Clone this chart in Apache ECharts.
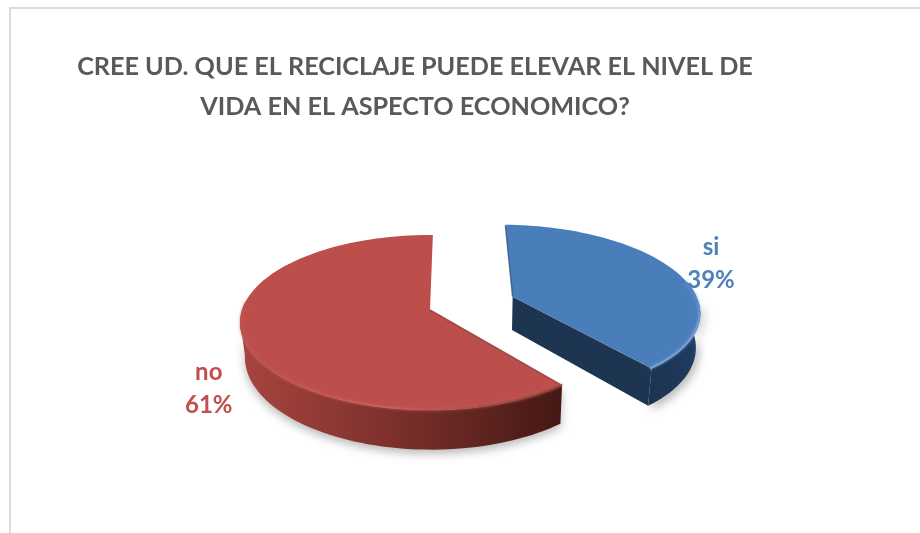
<!DOCTYPE html>
<html><head><meta charset="utf-8">
<style>html,body{margin:0;padding:0;background:#fff}#c{width:920px;height:533px}</style>
<script src="https://cdn.jsdelivr.net/npm/echarts@6/dist/echarts.min.js"></script>
</head><body><div id="c"></div>
<script>
const titleLines = ['CREE UD. QUE EL RECICLAJE PUEDE ELEVAR EL NIVEL DE', 'VIDA EN EL ASPECTO ECONOMICO?'];
const categories = ['si', 'no'];
const values = [39, 61];

// 3D view of the pie: a projective mapping of the unit disc onto the page
const VIEW = {cx: 430, cy: 310, a: 188, b: 85.7, k: 1 / 7, depth: 34, vanishX: 480, bottomScale: 0.98, startAngle: 1};
const LOOK = [
  {explode: 0.477, dir: 70.5, top: '#4a7ebb', rimStops: ['#4a7ebb', '#76a0d2', '#7aa3d4'], edge: 'rgba(47,85,133,0.8)', label: '#4f81bd', labelAngle: 70, labelR: 1.245,
   wallStops: ['#274673', '#1f3a5e', '#1c3350'], cut: '#1e3551', wallFrom: 92, wallTo: 360, rimFrom: 80, rimTo: 360},
  {explode: 0, dir: 0, top: '#bc4e4b', rimStops: ['#bc4e4b', '#c9605c', '#8c3c38'], edge: 'rgba(142,58,55,0.8)', label: '#c0504d', labelAngle: 232, labelR: 1.32,
   wallStops: ['#a8443f', '#7a2f2b', '#441814'], cut: '#441814', wallFrom: 0, wallTo: 263, rimFrom: 0, rimTo: 275}
];
const total = values.reduce((s, v) => s + v, 0);
const rad = d => d * Math.PI / 180;

function project(u, v, z) {
  const w = 1 + VIEW.k * v;
  let x = VIEW.cx + VIEW.a * u / w;
  let y = VIEW.cy - VIEW.b * v / w;
  if (z) {
    y += VIEW.depth * z / w;
    x = VIEW.vanishX + (x - VIEW.vanishX) * (1 - (1 - VIEW.bottomScale) * z);
  }
  return [x, y];
}
function onDisc(o, angle, r, z) {
  return project(o[0] + r * Math.sin(rad(angle)), o[1] + r * Math.cos(rad(angle)), z);
}
function arc(o, a0, a1, r, z) {
  const out = [], n = Math.max(8, Math.ceil(Math.abs(a1 - a0) / 2));
  for (let i = 0; i <= n; i++) out.push(onDisc(o, a0 + (a1 - a0) * i / n, r, z));
  return out;
}
function renderItem(params, api) {
  const i = params.dataIndex, look = LOOK[i];
  let a0 = VIEW.startAngle;
  for (let j = 0; j < i; j++) a0 += values[j] / total * 360;
  const a1 = a0 + api.value(0) / total * 360;
  const d = rad(look.dir);
  const o = [look.explode * Math.sin(d), look.explode * Math.cos(d)];
  const apex = project(o[0], o[1], 0);
  const topFace = [apex].concat(arc(o, a0, a1, 1, 0));

  // outer wall, only the part facing the viewer
  const wa0 = Math.max(a0, look.wallFrom);
  const wa1 = Math.min(a1, look.wallTo);
  const top = arc(o, wa0, wa1, 1, 0), bottom = arc(o, wa0, wa1, 1, 1).reverse();
  const xs = top.concat(bottom).map(p => p[0]);
  const xMin = Math.min.apply(null, xs), xMax = Math.max.apply(null, xs);
  const grad = i === 0
    ? new echarts.graphic.LinearGradient(xMax, 0, xMin, 0, [
        {offset: 0, color: look.wallStops[0]}, {offset: 0.2, color: look.wallStops[1]}, {offset: 1, color: look.wallStops[2]}], true)
    : new echarts.graphic.LinearGradient(xMin, 0, xMax, 0, [
        {offset: 0, color: look.wallStops[0]}, {offset: 0.5, color: look.wallStops[1]}, {offset: 1, color: look.wallStops[2]}], true);
  const children = [];
  children.push({type: 'polygon', shape: {points: top.concat(bottom)},
    style: {fill: grad, shadowBlur: 10, shadowColor: 'rgba(0,0,0,0.28)', shadowOffsetY: 4, shadowOffsetX: i === 0 ? 3 : 0}});
  if (i === 0) {
    const end = onDisc(o, a1, 1, 0), endB = onDisc(o, a1, 1, 1), apexB = project(o[0], o[1], 1);
    children.push({type: 'polygon', shape: {points: [apex, end, endB, apexB]}, style: {fill: look.cut}});
  }
  children.push({type: 'polygon', shape: {points: topFace}, style: {fill: look.top}});
  // soft bevels along the rim and the first straight edge
  const rimA0 = Math.max(a0, look.rimFrom), rimA1 = Math.min(a1, look.rimTo);
  const rimPts = arc(o, rimA0, rimA1, 0.995, 0);
  const rimXs = rimPts.map(p => p[0]);
  const rimGrad = i === 0
    ? new echarts.graphic.LinearGradient(0, Math.min.apply(null, rimPts.map(p => p[1])), 0, Math.max.apply(null, rimPts.map(p => p[1])), [
        {offset: 0, color: look.rimStops[0]}, {offset: 0.5, color: look.rimStops[1]}, {offset: 1, color: look.rimStops[2]}], true)
    : new echarts.graphic.LinearGradient(Math.min.apply(null, rimXs), 0, Math.max.apply(null, rimXs), 0, [
        {offset: 0, color: look.rimStops[0]}, {offset: 0.45, color: look.rimStops[1]}, {offset: 1, color: look.rimStops[2]}], true);
  children.push({type: 'polyline', shape: {points: rimPts},
    style: {stroke: rimGrad, lineWidth: 2, fill: null, lineCap: 'round', shadowBlur: 3, shadowColor: look.rimStops[1], opacity: 0.85}});
  children.push({type: 'polyline', shape: {points: [apex, onDisc(o, a0, 0.985, 0)]},
    style: {stroke: look.edge, lineWidth: 1.5, fill: null, lineCap: 'butt'}});
  // label
  const lp = onDisc(o, look.labelAngle, look.labelR, 0);
  children.push({type: 'text', style: {
    text: categories[i] + '\n' + Math.round(api.value(0) / total * 100) + '%',
    x: lp[0], y: lp[1], align: 'center', verticalAlign: 'middle',
    font: 'bold 24px Lato', lineHeight: 33, fill: look.label}});
  return {type: 'group', children: children};
}
const chart = echarts.init(document.getElementById('c'), null, {renderer: 'canvas'});
chart.setOption({
  animation: false,
  backgroundColor: '#ffffff',
  title: {text: titleLines.join('\n'), left: 410, top: 42, textAlign: 'center',
    textStyle: {fontFamily: 'Lato', fontWeight: 'bold', fontSize: 25.2, lineHeight: 40, color: '#595959'}},
  graphic: [{type: 'polyline', shape: {points: [[10, 533], [10, 8], [920, 8]]},
    style: {stroke: '#dcdcdc', lineWidth: 2, fill: null}, z: -1}],
  series: [{type: 'custom', coordinateSystem: 'none', silent: true, renderItem: renderItem,
    data: values.map((v, i) => ({name: categories[i], value: [v]}))}]
});
</script></body></html>
